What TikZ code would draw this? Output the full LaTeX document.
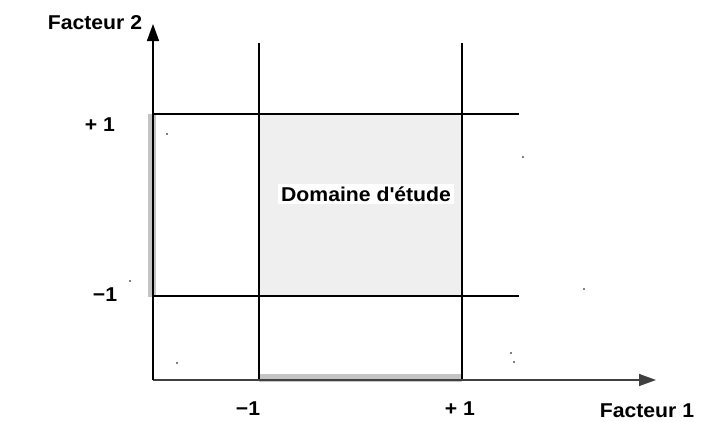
\documentclass[tikz,border=0pt]{standalone}
\usepackage{fontspec}
\setmainfont{Liberation Sans}[FakeStretch=1.06]
\usetikzlibrary{arrows.meta}
\definecolor{band}{HTML}{C4C4C4}
\definecolor{dom}{HTML}{EFEFEF}
\tikzset{
  lbl/.style={font=\fontsize{20}{24}\selectfont\bfseries, inner sep=1pt},
  grid/.style={line width=2pt, black},
  axis/.style={line width=1.6pt, -{Triangle[length=17pt,width=12pt]}},
  bandline/.style={line width=8pt, band},
  speck/.style={fill=black, circle, inner sep=0pt, minimum size=1.6pt}
}
\begin{document}
\begin{tikzpicture}[x=1pt,y=-1pt]
\useasboundingbox (0,0) rectangle (702,421);
% domain fill
\fill[dom] (259,114) rectangle (462,296);
% gray bands
\draw[bandline] (152,114) -- (152,297);
\draw[bandline] (259,378) -- (462,378);
% coordinates
\coordinate (O) at (153,380);
\coordinate (Ytip) at (153,24);
\coordinate (Xtip) at (656,380);
\coordinate (v1t) at (259,43);
\coordinate (v1b) at (259,380);
\coordinate (v2t) at (462,43);
\coordinate (v2b) at (462,380);
\coordinate (h1l) at (153,114);
\coordinate (h1r) at (519,114);
\coordinate (h2l) at (153,296);
\coordinate (h2r) at (519,296);
% grid lines
\draw[grid] (v1t) -- (v1b);
\draw[grid] (v2t) -- (v2b);
\draw[grid] (h1l) -- (h1r);
\draw[grid] (h2l) -- (h2r);
% axes
\draw[axis, black!75] (O) -- (Xtip);
\draw[axis, black] (O) -- (Ytip);
% labels
\node[lbl] (f2) at (95,23) {Facteur 2};
\node[lbl] (f1) at (647,411) {Facteur 1};
\node[lbl] (yp) at (100,125) {+ 1};
\node[lbl] (ym) at (105,295) {\textminus1};
\node[lbl] (xm) at (248,409) {\textminus1};
\node[lbl] (xp) at (460,409) {+ 1};
\node[lbl, fill=white, inner sep=3pt] (dom) at (366,194) {Domaine d\textquotesingle étude};
% specks
\node[speck] (s1) at (167,134) {};
\node[speck] (s2) at (523,157) {};
\node[speck] (s3) at (130,281) {};
\node[speck] (s4) at (177,363) {};
\node[speck] (s5) at (511,353) {};
\node[speck] (s6) at (514,362) {};
\node[speck] (s7) at (584,289) {};
\end{tikzpicture}
\end{document}
